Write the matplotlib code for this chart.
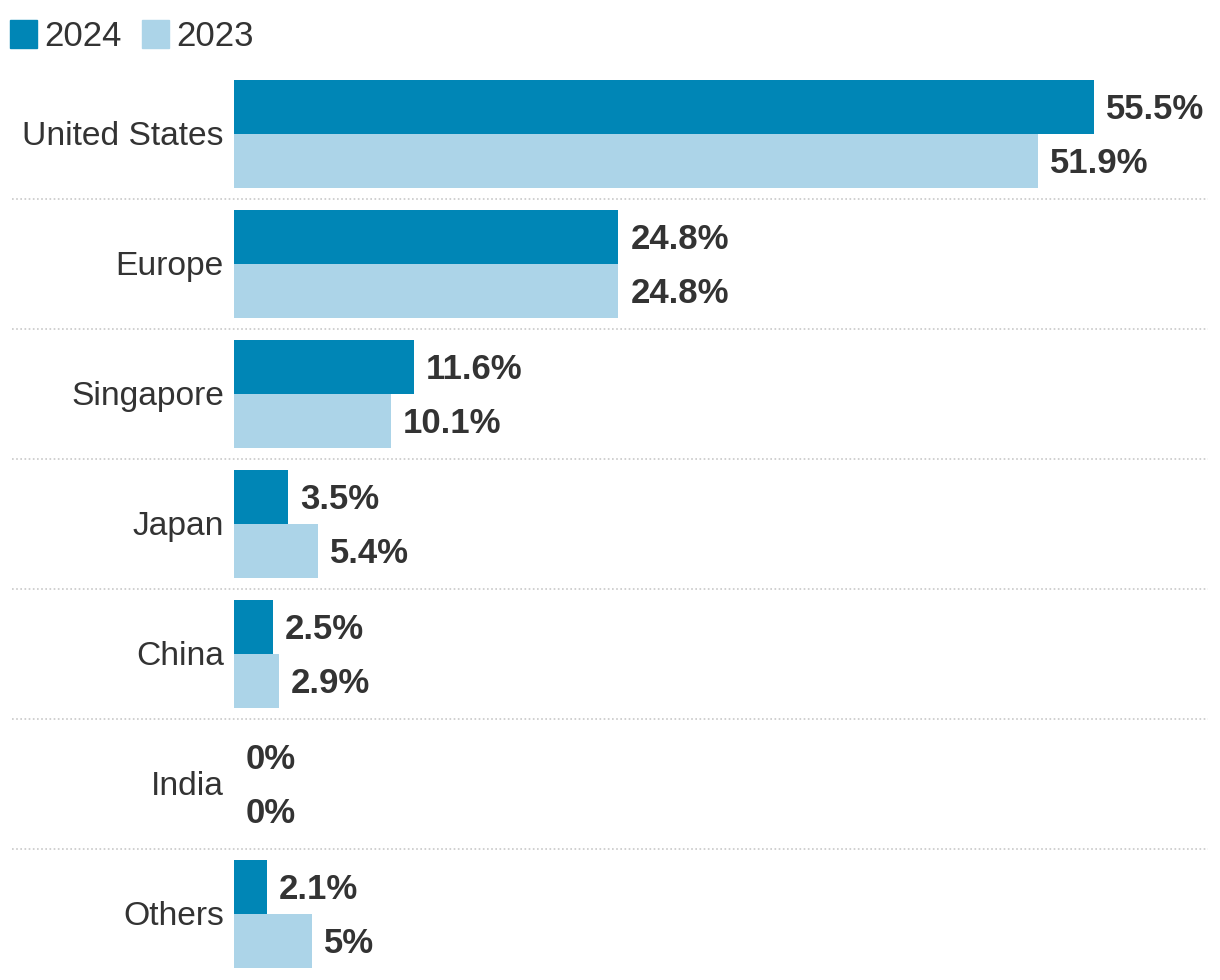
import matplotlib
matplotlib.use("Agg")
import matplotlib.pyplot as plt
from matplotlib.patches import Rectangle

categories = ["United States", "Europe", "Singapore", "Japan", "China", "India", "Others"]
values_2024 = [55.5, 24.8, 11.6, 3.5, 2.5, 0, 2.1]
values_2023 = [51.9, 24.8, 10.1, 5.4, 2.9, 0, 5]
labels_2024 = ["55.5%", "24.8%", "11.6%", "3.5%", "2.5%", "0%", "2.1%"]
labels_2023 = ["51.9%", "24.8%", "10.1%", "5.4%", "2.9%", "0%", "5%"]
series_names = ["2024", "2023"]

c2024 = "#0086b6"
c2023 = "#acd4e8"
txt = "#333333"

plt.rcParams['font.family'] = ['Liberation Sans', 'DejaVu Sans']

W, H = 1220, 980
fig = plt.figure(figsize=(W / 100, H / 100), dpi=100)

# axes in pixel coordinates
left, right = 234, 1208
top, bottom = 69, 979
ax = fig.add_axes([left / W, 1 - bottom / H, (right - left) / W, (bottom - top) / H])
px_per_unit = 15.5
ax.set_xlim(0, (right - left) / px_per_unit)
ax.set_ylim(len(categories) - 0.5, -0.5)
ax.axis("off")

bh = 54 / 130
dy = 2 / 130
ys = list(range(len(categories)))
ax.barh([y - bh / 2 for y in ys], values_2024, height=bh, color=c2024, align="center")
ax.barh([y + bh / 2 for y in ys], values_2023, height=bh, color=c2023, align="center")

off = 12 / px_per_unit
for y, v, l in zip(ys, values_2024, labels_2024):
    ax.text(v + off, y - bh / 2 + dy, l, ha="left", va="center", fontsize=25,
            fontweight="bold", color=txt)
for y, v, l in zip(ys, values_2023, labels_2023):
    ax.text(v + off, y + bh / 2 + dy, l, ha="left", va="center", fontsize=25,
            fontweight="bold", color=txt)

for y, c in zip(ys, categories):
    ax.text(-10 / px_per_unit, y + dy, c, ha="right", va="center", fontsize=24.2, color=txt)

# dotted separators
xmin_frac = (12 - left) / (right - left)
for i in range(len(categories) - 1):
    ax.axhline(i + 0.5, xmin=xmin_frac, xmax=1.0, color="#c8c8c8", lw=1.2,
               ls=(0, (1, 1.5)), clip_on=False)

# legend
def fx(x):
    return x / W
def fy(y):
    return 1 - y / H
fig.patches.append(Rectangle((fx(10), fy(48)), 27 / W, 28 / H, transform=fig.transFigure,
                             color=c2024))
fig.text(fx(44), fy(36), series_names[0], ha="left", va="center", fontsize=25, color=txt)
fig.patches.append(Rectangle((fx(142), fy(48)), 27 / W, 28 / H, transform=fig.transFigure,
                             color=c2023))
fig.text(fx(176), fy(36), series_names[1], ha="left", va="center", fontsize=25, color=txt)

fig.savefig("out.png", dpi=100)
